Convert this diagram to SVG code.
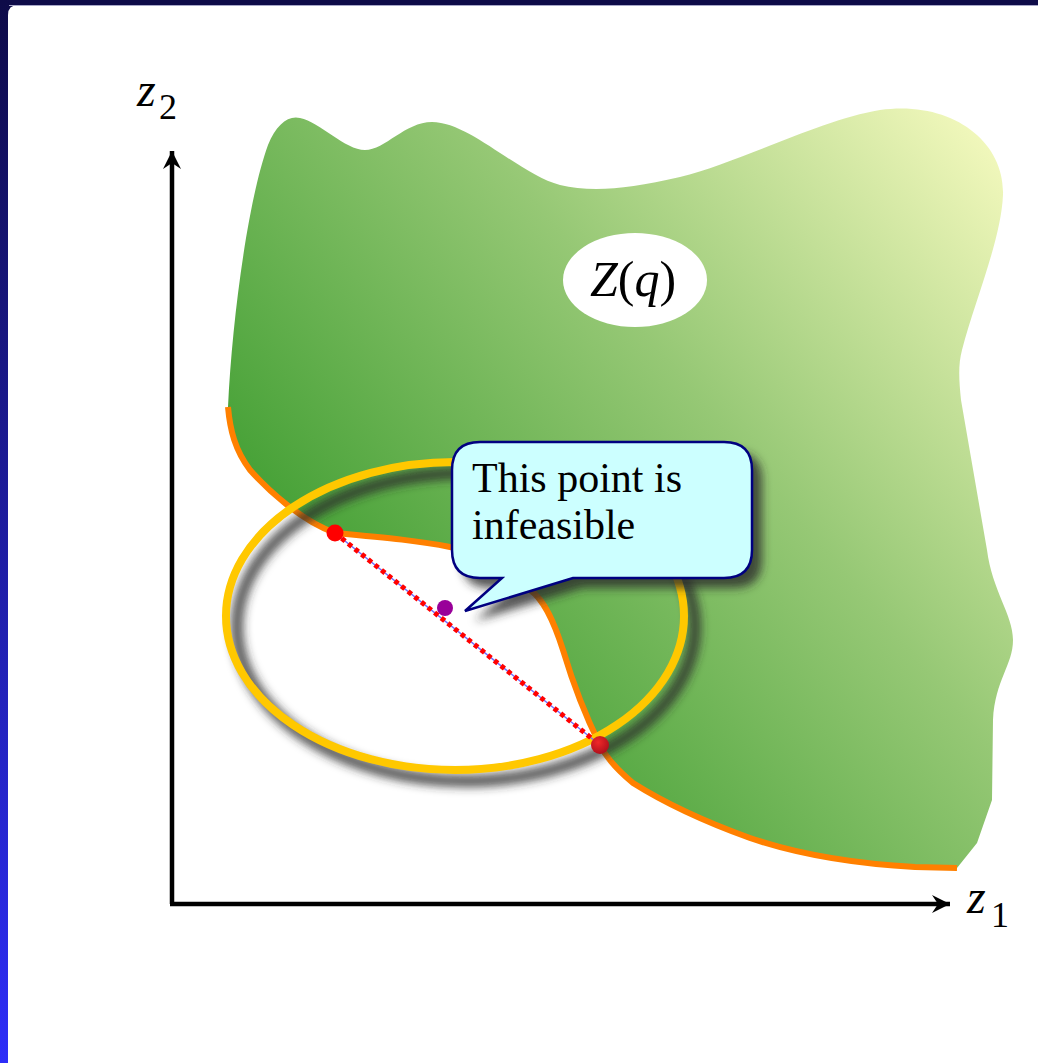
<svg xmlns="http://www.w3.org/2000/svg" width="1038" height="1063" viewBox="0 0 1038 1063">
<defs>
<linearGradient id="side" x1="0" y1="0" x2="0" y2="1">
<stop offset="0" stop-color="#0e0b48"/>
<stop offset="1" stop-color="#2e2ef8"/>
</linearGradient>
<linearGradient id="green" gradientUnits="userSpaceOnUse" x1="400" y1="650" x2="1000" y2="150">
<stop offset="0" stop-color="#48a238"/>
<stop offset="0.5" stop-color="#96c875"/>
<stop offset="1" stop-color="#f2f8bc"/>
</linearGradient>
<radialGradient id="redball" cx="0.4" cy="0.35" r="0.65">
<stop offset="0" stop-color="#f02828"/>
<stop offset="1" stop-color="#b0101c"/>
</radialGradient>
<filter id="blur" x="-20%" y="-20%" width="140%" height="140%">
<feGaussianBlur stdDeviation="5"/>
</filter>
<marker id="arrow" viewBox="0 0 20 20" refX="18" refY="10" markerWidth="20" markerHeight="20" markerUnits="userSpaceOnUse" orient="auto">
<path d="M0,1 L18,10 L0,19 L6,10 Z" fill="#000"/>
</marker>
</defs>
<style>
.axis{stroke:#000;stroke-width:4.5;fill:none;stroke-linejoin:round}
.lbl{font-family:"Liberation Serif","Times New Roman",serif;fill:#000}
.it{font-style:italic}
</style>
<rect x="0" y="0" width="1038" height="1063" fill="#0e0b48"/>
<rect x="0" y="0" width="9" height="1063" fill="url(#side)"/>
<path d="M18,5 L1038,5 L1038,1063 L8,1063 L8,15 Q8,5 18,5 Z" fill="#fff"/>
<line x1="9" y1="5.5" x2="1038" y2="5.5" stroke="#a8a8c8" stroke-width="1"/>

<g id="region">
<path d="M228,407 C232,320 248,200 268,145 C276,125 288,115 300,118 C320,122 345,150 365,150 C385,150 405,122 432,122 C470,122 520,175 560,185 C590,192 625,190 680,177 C740,162 820,120 880,110 C950,100 1005,140 1003,195 C1001,240 975,300 962,350 C958,365 959,380 961,400 L987,550 C992,590 1013,615 1013,640 C1013,665 995,680 993,720 L992,800 L977,843 L957,868 L915,867 C860,864 800,855 750,838 C700,820 660,800 633,783 C615,768 605,755 600,745 C590,725 575,690 563,650 C555,625 545,600 530,590 C515,575 490,553 450,547 C420,541 390,538 335,533 C300,520 268,490 250,470 C235,450 230,430 228,407 Z" fill="url(#green)"/>
<path d="M228,407 C230,430 235,450 250,470 C268,490 300,520 335,533 C390,538 420,541 450,547 C490,553 515,575 530,590 C545,600 555,625 563,650 C575,690 590,725 600,745 C605,755 615,768 633,783 C660,800 700,820 750,838 C800,855 860,864 915,867 L957,868" fill="none" stroke="#ff8000" stroke-width="6"/>
</g>

<g id="label-zq">
<ellipse cx="635" cy="280" rx="72" ry="47" fill="#fff"/>
<text class="lbl" x="590" y="296" font-size="50"><tspan class="it">Z</tspan>(<tspan class="it">q</tspan>)</text>
</g>

<g id="ellipse">
<ellipse cx="466" cy="627" rx="229" ry="154" fill="none" stroke="#2a2a2a" stroke-opacity="0.8" stroke-width="12" filter="url(#blur)"/>
<ellipse cx="455" cy="616" rx="229" ry="154" fill="none" stroke="#ffc800" stroke-width="8"/>
</g>

<g id="connectors">
<line x1="172" y1="904" x2="172" y2="151" class="axis" marker-end="url(#arrow)"/>
<line x1="170" y1="904" x2="950" y2="904" class="axis" marker-end="url(#arrow)"/>
<line x1="335" y1="533" x2="600" y2="745" stroke="#7070ff" stroke-width="1.5"/>
<line x1="335" y1="533" x2="600" y2="745" stroke="#ff0000" stroke-width="5" stroke-dasharray="4.5 4"/>
</g>

<g id="point-a"><circle cx="335" cy="533" r="8.5" fill="#ff0000"/></g>
<g id="point-b"><circle cx="600" cy="745" r="9" fill="url(#redball)"/></g>

<g id="callout">
<path d="M490,452 L734,452 Q762,452 762,480 L762,560 Q762,588 734,588 L583,588 L475,621 L512,588 L490,588 Q462,588 462,560 L462,480 Q462,452 490,452 Z" fill="#2a2a2a" fill-opacity="0.8" filter="url(#blur)"/>
<path d="M480,442 L724,442 Q752,442 752,470 L752,550 Q752,578 724,578 L573,578 L465,611 L502,578 L480,578 Q452,578 452,550 L452,470 Q452,442 480,442 Z" fill="#ccffff" stroke="#000080" stroke-width="2.5" stroke-linejoin="miter"/>
<text class="lbl" x="472" y="492" font-size="42">This point is</text>
<text class="lbl" x="472" y="539" font-size="42">infeasible</text>
</g>

<g id="point-c"><circle cx="445" cy="608" r="8" fill="#990099"/></g>

<g id="axis-labels">
<text class="lbl" x="137" y="106" font-size="48"><tspan class="it">z</tspan></text>
<text class="lbl" x="159" y="119" font-size="36">2</text>
<text class="lbl" x="967" y="913" font-size="48"><tspan class="it">z</tspan></text>
<text class="lbl" x="991" y="927" font-size="36">1</text>
</g>
</svg>
